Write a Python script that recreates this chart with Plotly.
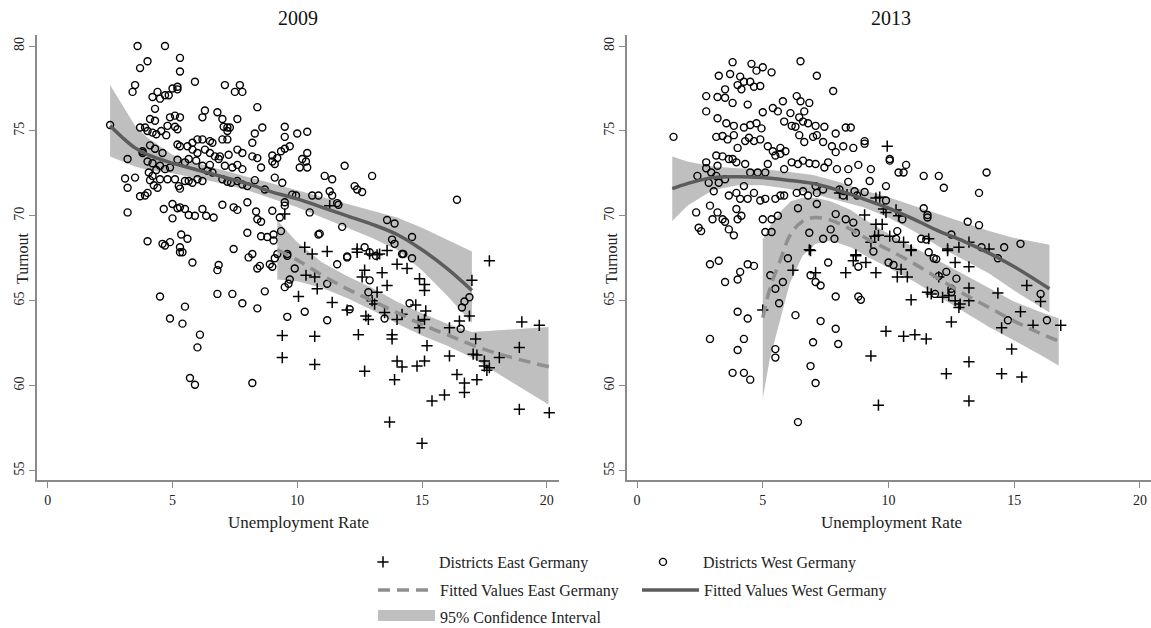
import plotly.graph_objects as go

# ---------------- data ----------------
west_2009 = [
    (3.6,80.0),(4.7,80.0),(5.3,79.3),(4.0,79.1),(3.7,78.7),(5.3,78.5),(5.9,77.9),(7.1,77.7),(7.7,77.7),(3.5,77.7),
    (3.4,77.3),(4.2,77.0),(4.4,77.3),(4.5,76.9),(4.7,77.1),(4.85,77.1),(5.0,77.5),(5.2,77.6),(5.2,77.45),(7.5,77.3),
    (7.8,77.3),(8.4,76.4),(4.3,76.3),(6.3,76.2),(6.8,76.1),(6.2,75.8),(4.9,75.8),(5.3,75.8),(5.1,75.9),(4.1,75.7),
    (4.3,75.6),(7.0,75.7),(7.6,75.7),(3.7,75.2),(3.9,75.2),(4.8,75.3),(5.1,75.25),(5.2,75.1),(7.05,75.25),(7.2,75.2),
    (7.2,75.0),(7.3,75.2),(8.6,75.2),(9.5,75.25),(10.4,74.95),(10.0,74.85),(9.5,74.65),(8.3,74.85),(7.0,74.5),(7.2,74.5),
    (4.0,75.0),(4.2,74.9),(4.35,74.8),(4.55,75.0),(4.75,74.75),(5.2,74.2),(5.3,74.1),(5.8,74.3),(6.0,74.5),(6.2,74.5),
    (6.5,74.4),(6.6,74.3),(8.2,74.3),(9.7,74.1),(9.5,73.95),(9.35,73.8),(10.4,73.7),(3.8,73.8),(3.8,73.7),(4.1,74.15),
    (4.3,73.95),(4.6,73.7),(5.6,74.1),(5.8,73.9),(6.0,73.7),(6.3,73.9),(6.5,73.7),(6.7,73.5),(6.9,73.5),(7.25,73.6),
    (7.6,73.9),(7.8,73.7),(8.2,73.5),(8.4,73.4),(8.55,72.85),(9.0,73.55),(9.2,73.4),(9.0,73.2),(9.1,73.05),(10.2,73.35),
    (10.35,73.2),(10.1,72.85),(10.4,72.85),(11.9,72.95),(3.2,73.35),(4.0,73.2),(4.2,73.1),(4.5,72.95),(4.7,72.75),(4.9,72.85),
    (3.1,72.2),(3.5,72.25),(3.2,71.65),(3.7,71.15),(3.9,71.2),(4.0,71.35),(2.5,75.35),
    (5.2,73.3),(5.5,73.15),(5.65,73.35),(5.95,73.25),(6.2,72.95),(6.5,73.0),(6.85,73.35),(7.1,72.95),(7.4,72.85),(7.6,73.0),
    (7.8,72.75),(4.05,72.55),(4.35,72.7),(4.2,72.35),(4.1,72.1),(4.5,72.15),(4.25,71.8),(4.4,71.65),(4.8,72.15),(5.1,72.15),
    (5.25,71.75),(5.3,71.6),(5.5,72.05),(5.65,72.05),(5.8,71.95),(6.0,72.15),(6.2,72.05),(6.4,72.65),(6.6,72.55),(7.0,72.15),
    (7.2,72.0),(7.35,71.95),(7.6,72.05),(7.8,71.85),(8.0,71.75),(8.3,72.1),(8.7,71.55),(9.1,72.25),(9.4,71.95),(9.8,71.25),
    (9.95,71.2),(9.5,70.8),(10.6,71.2),(10.85,71.2),(11.1,72.35),(11.4,72.15),(11.3,71.45),(11.4,71.2),(11.6,70.75),(11.65,70.65),
    (12.3,71.75),(12.4,71.55),(12.6,71.4),(13.0,72.35),
    (3.2,70.2),(4.65,70.4),(5.0,70.7),(5.2,70.45),(5.0,69.85),(5.3,70.5),(5.5,70.4),(5.65,70.05),(5.9,70.0),(6.2,70.4),
    (6.35,70.0),(6.65,69.9),(7.0,70.65),(7.45,70.5),(7.6,70.35),(8.0,70.8),(8.35,70.25),(8.4,69.8),(8.55,69.65),(9.0,70.3),
    (9.3,69.9),(9.5,70.6),(10.5,70.2),(10.85,68.9),(11.8,69.35),(13.6,69.75),(13.9,69.55),(16.4,70.95),
    (4.0,68.5),(4.6,68.35),(4.9,68.45),(4.7,68.25),(5.35,68.9),(5.6,68.65),(5.3,68.15),(5.3,67.85),(7.45,68.05),(8.0,69.0),
    (8.55,68.8),(8.8,68.75),(9.05,68.9),(9.05,68.55),(9.35,69.1),(9.6,67.75),(10.9,68.95),(12.0,67.6),(12.7,68.15),(12.9,67.85),
    (13.15,67.65),(13.8,68.6),(13.9,68.35),(14.6,68.75),(14.25,67.75),
    (5.4,67.85),(5.8,67.25),(6.8,66.8),(6.85,67.1),(4.5,65.25),(5.5,64.65),(6.8,65.4),(7.4,65.4),(7.8,64.85),(8.4,64.55),
    (8.7,65.55),(4.9,63.95),(5.4,63.65),(6.1,63.0),(6.0,62.25),(5.7,60.45),(5.9,60.05),(8.2,60.15),(8.05,67.55),(8.2,67.75),
    (8.4,66.9),(8.5,67.05),(8.9,67.15),(9.0,67.0),(9.1,67.5),(9.2,67.75),(9.6,67.65),(9.7,66.25),(9.65,66.0),(9.5,65.8),
    (9.9,66.9),(9.6,64.05),(10.3,64.35),(11.2,66.0),(11.2,63.85),(11.6,67.15),(12.0,67.55),(12.1,64.5),(12.9,66.2),(12.85,65.5),
    (14.5,64.85),(13.5,63.95),(14.6,67.5),(14.2,67.75),(16.7,64.95),(16.6,64.6),(16.9,65.2),(16.55,63.35),
]

east_2009 = [
    (9.4,62.95),(9.4,61.65),(10.05,65.25),(10.35,66.5),(10.7,66.4),(10.6,67.75),(11.2,67.9),(10.8,65.7),(10.7,62.9),(10.7,61.25),
    (11.4,64.9),(12.0,64.45),(12.45,63.0),(12.4,67.85),(12.9,67.75),(13.3,67.75),(13.6,67.95),(12.6,66.4),(12.7,66.8),(12.75,64.1),
    (12.85,63.9),(13.0,65.0),(13.1,64.8),(13.2,65.5),(13.4,66.65),(13.6,65.9),(13.5,64.3),(13.8,63.0),(13.8,62.75),(14.0,67.15),
    (14.4,66.9),(14.2,64.2),(14.0,63.9),(14.0,61.45),(14.2,61.1),(13.9,60.35),(12.7,60.85),(13.7,57.85),(15.0,56.6),(14.9,66.3),
    (15.1,65.95),(15.1,65.6),(14.75,64.75),(14.85,63.8),(14.9,63.4),(15.15,64.4),(15.1,63.9),(15.2,62.35),(15.1,61.45),(14.8,61.15),
    (15.4,59.1),(15.9,59.45),(16.1,63.4),(16.1,61.75),(16.4,60.65),(16.7,60.15),(16.7,59.6),(16.5,63.8),(16.9,64.1),(17.0,66.2),
    (17.7,67.35),(17.15,62.75),(17.05,61.85),(17.2,61.8),(17.5,61.45),(17.5,61.15),(17.7,61.05),(17.6,60.9),(17.2,60.35),(18.1,61.65),
    (19.0,63.75),(18.9,62.25),(18.9,58.6),(19.7,63.55),(20.1,58.4),(9.5,70.1),(11.3,70.6),(10.3,68.15),(12.4,68.05),(13.2,67.7),
]

west_2013 = [
    (1.45,74.65),(3.8,79.05),(6.5,79.1),(4.55,78.95),(5.0,78.75),(4.75,78.55),(5.35,78.45),(7.15,78.25),(3.25,78.25),(3.7,78.35),
    (4.1,78.2),(4.0,77.7),(4.25,77.9),(4.5,77.9),(4.65,77.6),(4.9,77.65),(3.5,77.45),(4.15,77.45),(7.8,77.35),(2.75,77.05),
    (3.2,77.0),(3.5,76.95),(3.8,76.65),(4.4,76.55),(6.35,77.05),(6.5,76.75),(6.85,76.65),(5.8,76.75),(5.4,76.35),(5.6,76.15),
    (5.0,76.1),(6.1,76.05),(6.65,76.15),(2.75,76.15),(3.2,75.75),(3.55,75.45),(3.85,75.3),(4.25,75.2),(4.5,75.35),(4.75,75.45),
    (4.95,75.15),(5.85,75.55),(6.15,75.3),(6.3,75.25),(6.6,75.55),(6.8,75.45),(6.45,75.8),(7.1,75.3),(7.45,75.25),(8.3,75.2),
    (8.5,75.2),(7.9,74.85),(3.15,74.65),(3.4,74.7),(3.6,74.5),(3.85,74.75),(4.0,74.0),(4.3,74.4),(4.45,74.6),(4.65,74.4),
    (4.9,74.5),(5.2,74.1),(5.4,73.8),(5.7,74.0),(5.9,73.8),(6.45,74.75),(6.65,74.35),(7.0,74.65),(7.15,74.75),(7.4,74.35),
    (7.75,74.1),(7.9,73.75),(8.2,74.1),(8.6,74.0),(9.05,74.4),(9.05,74.25),(10.05,73.35),(10.05,73.25),(3.4,73.5),(3.2,72.95),
    (2.75,73.15),(3.15,73.55),(3.65,73.35),(3.8,73.35),(3.95,73.15),(4.3,73.05),(4.5,72.55),(4.8,72.55),(5.1,72.55),(5.2,73.05),
    (5.5,73.55),(5.7,73.65),(5.85,72.75),(6.15,73.15),(6.4,73.05),(6.6,73.25),(6.85,73.1),(7.1,73.05),(7.45,72.85),(7.6,73.15),
    (7.95,72.75),(8.4,72.75),(8.8,73.0),(9.3,72.75),(10.4,72.55),(10.6,72.55),(10.7,73.0),(11.4,72.35),(12.0,72.35),(12.2,71.65),
    (13.9,72.55),(13.6,71.35),(2.4,72.35),(2.75,72.8),(2.95,72.55),(2.85,71.95),(3.05,71.45),(3.15,72.35),(3.25,71.95),(3.5,72.15),
    (3.65,71.2),(3.95,71.35),(4.1,71.0),(4.25,71.75),(4.4,71.0),(4.65,71.35),(4.9,70.9),(5.1,71.0),(5.5,71.0),(5.7,71.2),
    (5.85,71.2),(6.35,71.35),(6.6,71.45),(6.8,71.2),(7.1,71.75),(7.15,71.35),(7.4,71.55),(8.05,71.55),(8.2,71.2),(8.4,72.0),
    (8.65,71.45),(8.75,71.2),(9.05,71.4),(9.25,72.05),(9.9,71.75),(9.9,70.9),(2.35,70.2),(2.9,70.6),(3.0,69.8),(3.2,70.2),
    (2.45,69.3),(2.55,69.1),(3.4,69.8),(3.5,69.65),(3.65,69.2),(3.85,68.85),(3.95,70.4),(4.0,69.8),(4.15,70.0),(5.0,69.8),
    (5.35,69.8),(5.1,69.05),(5.35,69.05),(5.6,70.0),(6.4,70.45),(6.85,69.0),(7.15,70.7),(7.4,68.65),(7.7,69.2),(7.85,68.65),
    (7.9,70.1),(8.3,69.8),(8.6,69.6),(8.7,69.0),(10.3,68.65),(10.35,69.1),(10.55,69.8),(11.4,70.45),(11.55,70.05),(11.55,69.9),
    (12.5,68.9),(13.15,69.65),(13.6,69.45),(14.6,68.15),(15.25,68.35),(13.7,68.15),(11.3,68.65),(11.5,68.6),
    (2.9,67.15),(3.25,67.35),(4.4,67.15),(4.65,67.05),(4.1,66.7),(4.0,66.25),(3.5,66.1),(5.3,66.5),(5.8,66.1),(5.5,65.7),
    (5.65,64.85),(6.0,67.5),(6.3,64.15),(4.0,64.35),(4.4,63.95),(2.9,62.75),(4.25,62.75),(4.0,62.1),(5.5,62.15),(5.5,61.65),
    (3.8,60.75),(4.25,60.75),(4.5,60.35),(6.4,57.85),(6.9,66.5),(7.1,66.1),(7.3,65.9),(7.6,67.25),(7.9,65.25),(7.3,63.8),
    (7.9,63.35),(8.0,62.45),(7.0,62.55),(6.9,61.15),(7.1,60.15),(8.8,67.0),(8.8,65.25),(8.9,65.05),(9.4,67.9),(10.0,67.25),
    (10.2,67.1),(11.6,67.85),(11.8,67.5),(11.9,67.45),(12.0,66.45),(11.85,65.4),(12.3,66.7),(12.7,66.3),(12.5,65.7),(12.5,65.5),
    (14.35,67.5),(14.75,63.85),(16.05,65.4),(16.3,63.85),
]

east_2013 = [
    (9.95,74.1),(8.05,71.35),(8.35,71.25),(9.5,71.05),(9.65,71.1),(9.8,70.4),(9.9,70.2),(10.3,70.35),(10.4,70.0),(9.05,70.05),
    (9.5,69.5),(9.75,69.5),(9.45,68.8),(9.6,68.85),(10.05,68.8),(9.3,68.45),(10.6,68.45),(10.9,68.0),(11.6,68.65),(12.35,68.05),
    (12.8,68.15),(13.2,68.45),(14.0,68.05),(6.85,68.0),(8.7,67.7),(5.0,64.45),(6.2,66.8),(6.9,67.95),(7.1,66.65),(8.3,66.65),
    (8.7,67.65),(8.6,67.35),(9.1,67.25),(9.5,66.65),(9.9,63.2),(9.3,61.75),(9.6,58.85),(10.35,66.4),(10.5,66.85),(10.75,66.4),
    (10.9,67.95),(10.9,65.05),(10.6,62.9),(11.05,63.0),(11.5,62.75),(11.55,65.5),(11.7,65.4),(12.0,66.4),(12.15,65.2),(12.4,65.3),
    (12.35,67.95),(12.5,63.75),(12.3,60.7),(12.65,67.25),(12.65,65.0),(12.8,64.6),(12.85,64.8),(13.2,67.0),(13.2,65.75),(13.2,65.0),
    (13.2,61.4),(13.2,59.1),(14.35,65.45),(14.5,63.4),(14.5,60.7),(14.9,62.15),(15.25,64.35),(15.3,60.5),(15.5,65.9),(15.75,63.55),
    (16.05,64.95),(16.85,63.55),
]

# fitted values and 95% confidence bounds
fit_w09_x = [2.5, 3.0, 3.5, 4, 5, 6, 7, 8, 9, 10, 11, 12, 13, 14, 15, 16, 17]
fit_w09_y = [75.3, 74.6, 74.0, 73.6, 73.1, 72.7, 72.3, 71.9, 71.4, 71.0, 70.5, 70.0, 69.5, 68.9, 68.0, 66.9, 65.6]
ci_w09_hi = [77.7, 76.5, 75.3, 74.6, 73.6, 73.1, 72.7, 72.3, 71.9, 71.5, 71.1, 70.7, 70.3, 69.9, 69.3, 68.6, 67.9]
ci_w09_lo = [73.5, 73.2, 72.9, 72.7, 72.5, 72.2, 71.9, 71.5, 71.0, 70.5, 69.9, 69.3, 68.7, 68.0, 66.8, 65.3, 63.7]

fit_e09_x = [9.2, 10, 11, 12, 13, 14, 15, 16, 17, 18, 19, 20.1]
fit_e09_y = [68.0, 67.4, 66.5, 65.7, 65.0, 64.3, 63.6, 63.0, 62.4, 61.9, 61.5, 61.1]
ci_e09_hi = [69.8, 68.5, 67.3, 66.5, 65.8, 65.0, 64.3, 63.7, 63.2, 63.3, 63.4, 63.5]
ci_e09_lo = [66.2, 66.1, 65.7, 65.1, 64.4, 63.6, 62.9, 62.3, 61.6, 60.7, 59.8, 58.8]

fit_w13_x = [1.4, 2, 3, 4, 5, 6, 7, 8, 9, 10, 11, 12, 13, 14, 15, 16.4]
fit_w13_y = [71.6, 71.9, 72.25, 72.3, 72.25, 72.1, 71.9, 71.5, 71.0, 70.45, 69.8, 69.1, 68.5, 67.8, 67.0, 65.7]
ci_w13_hi = [73.5, 73.2, 72.9, 72.8, 72.75, 72.6, 72.4, 72.0, 71.5, 71.1, 70.6, 70.1, 69.6, 69.1, 68.7, 68.3]
ci_w13_lo = [69.7, 70.6, 71.5, 71.8, 71.8, 71.6, 71.3, 70.9, 70.5, 69.9, 69.1, 68.2, 67.4, 66.6, 65.6, 64.3]

fit_e13_x = [5.0, 5.3, 5.7, 6.1, 6.6, 7.1, 7.7, 8.5, 9.2, 10.0, 11.0, 12.0, 13.0, 14.0, 15.0, 16.0, 16.8]
fit_e13_y = [64.0, 65.8, 67.4, 68.9, 69.7, 69.9, 69.75, 69.2, 68.6, 68.0, 67.2, 66.3, 65.4, 64.6, 63.8, 63.1, 62.6]
ci_e13_hi = [68.7, 69.5, 70.3, 70.9, 71.1, 71.1, 70.9, 70.4, 69.7, 69.0, 68.2, 67.4, 66.6, 65.8, 65.0, 64.4, 64.0]
ci_e13_lo = [59.0, 61.5, 63.8, 66.0, 67.6, 68.3, 68.5, 68.1, 67.5, 66.9, 66.1, 65.2, 64.3, 63.4, 62.6, 61.8, 61.1]

years = ["2009", "2013"]
x_ticks = [0, 5, 10, 15, 20]
y_ticks = [55, 60, 65, 70, 75, 80]

# ---------------- styling ----------------
FONT = "Liberation Serif"
BAND = "#bfbfbf"
WEST_LINE = "#5c5c5c"
EAST_LINE = "#8f8f8f"
AXIS = "#8a8a8a"
NB = "\u00a0"

fig = go.Figure()

panels = [
    dict(xa="x", ya="y", west=west_2009, east=east_2009,
         fw=(fit_w09_x, fit_w09_y, ci_w09_hi, ci_w09_lo),
         fe=(fit_e09_x, fit_e09_y, ci_e09_hi, ci_e09_lo)),
    dict(xa="x2", ya="y2", west=west_2013, east=east_2013,
         fw=(fit_w13_x, fit_w13_y, ci_w13_hi, ci_w13_lo),
         fe=(fit_e13_x, fit_e13_y, ci_e13_hi, ci_e13_lo)),
]

for i, p in enumerate(panels):
    first = i == 0
    # confidence bands
    for key, outline in (("fw", 0), ("fe", 1.5)):
        fx, fy, hi, lo = p[key]
        fig.add_trace(go.Scatter(
            x=list(fx) + list(fx)[::-1], y=list(hi) + list(lo)[::-1],
            xaxis=p["xa"], yaxis=p["ya"], mode="lines", fill="toself",
            fillcolor=BAND, line=dict(color="white" if outline else BAND, width=outline),
            showlegend=False, hoverinfo="skip"))
    # scatter points
    fig.add_trace(go.Scatter(
        x=[a for a, b in p["east"]], y=[b for a, b in p["east"]],
        xaxis=p["xa"], yaxis=p["ya"], mode="markers",
        name=NB * 9 + "Districts East Germany",
        legend="legend", showlegend=first,
        marker=dict(symbol="cross-thin-open", size=8, line=dict(color="black", width=1.5), color="black")))
    fig.add_trace(go.Scatter(
        x=[a for a, b in p["west"]], y=[b for a, b in p["west"]],
        xaxis=p["xa"], yaxis=p["ya"], mode="markers",
        name=NB * 5 + "Districts West Germany",
        legend="legend", showlegend=first,
        marker=dict(symbol="circle-open", size=7, line=dict(color="black", width=1.4), color="black")))
    # fitted lines
    fx, fy, _, _ = p["fe"]
    fig.add_trace(go.Scatter(
        x=fx, y=fy, xaxis=p["xa"], yaxis=p["ya"], mode="lines", line_shape="spline",
        name="Fitted Values East Germany", legend="legend2", showlegend=first,
        line=dict(color=EAST_LINE, width=3.5, dash="12px,7px")))
    fx, fy, _, _ = p["fw"]
    fig.add_trace(go.Scatter(
        x=fx, y=fy, xaxis=p["xa"], yaxis=p["ya"], mode="lines", line_shape="spline",
        name="Fitted Values West Germany", legend="legend2", showlegend=first,
        line=dict(color=WEST_LINE, width=3.5)))

# legend key for the confidence band (no data, key only)
fig.add_trace(go.Scatter(
    x=[None], y=[None], mode="lines", fill="toself", fillcolor=BAND,
    line=dict(color=BAND, width=18), name="95% Confidence Interval",
    legend="legend3", showlegend=True, hoverinfo="skip"))

W, H = 1151, 628
PLOT_L, PLOT_T, PLOT_B = 37, 35, 480          # page pixels of the plotting area
L, T, R, B = PLOT_L, PLOT_T, 0, H - PLOT_B
PW, PH = W - L - R, H - T - B


def px_x(px):
    return (px - L) / PW


def px_y(py):
    return (H - B - py) / PH


axis_common = dict(showline=True, linecolor=AXIS, linewidth=1.5, ticks="outside", ticklen=6,
                   tickcolor=AXIS, tickwidth=1.2, showgrid=False, zeroline=False, automargin=False,
                   tickfont=dict(family=FONT, size=14, color="#222"), mirror=False)

fig.update_layout(
    template="none",
    width=W, height=H, margin=dict(l=L, r=R, t=T, b=B, autoexpand=False),
    plot_bgcolor="white", paper_bgcolor="white", hovermode=False,
    font=dict(family=FONT, color="#222"),
    xaxis=dict(domain=[0, px_x(559)], range=[-0.43, 20.49], tickvals=x_ticks, anchor="y", **axis_common),
    yaxis=dict(domain=[0, 1], range=[54.44, 80.65], tickvals=y_ticks, tickangle=-90, anchor="x", **axis_common),
    xaxis2=dict(domain=[px_x(627), 1], range=[-0.40, 20.44], tickvals=x_ticks, anchor="y2", **axis_common),
    yaxis2=dict(domain=[0, 1], range=[54.44, 80.65], tickvals=y_ticks, tickangle=-90, anchor="x2", **axis_common),
)

legend_common = dict(orientation="h", xanchor="left", yanchor="middle", bgcolor="rgba(0,0,0,0)",
                     borderwidth=0, font=dict(family=FONT, size=16, color="#222"),
                     entrywidthmode="pixels", traceorder="normal")
fig.update_layout(
    legend=dict(x=px_x(363), y=px_y(562), itemwidth=30, entrywidth=235, **legend_common),
    legend2=dict(x=px_x(373), y=px_y(590), itemwidth=57, entrywidth=192, **legend_common),
    legend3=dict(x=px_x(373), y=px_y(617), itemwidth=57, entrywidth=192, **legend_common),
)

annots = []
for yr, cx, tx in ((years[0], 298, 22), (years[1], 891, 611)):
    annots.append(dict(text=yr, x=px_x(cx), y=px_y(18), xref="paper", yref="paper",
                       showarrow=False, font=dict(family=FONT, size=20, color="#111"),
                       xanchor="center", yanchor="middle"))
    annots.append(dict(text="Unemployment Rate", x=px_x(cx), y=px_y(522), xref="paper", yref="paper",
                       showarrow=False, font=dict(family=FONT, size=17, color="#222"),
                       xanchor="center", yanchor="middle"))
    annots.append(dict(text="Turnout", x=px_x(tx), y=px_y(258), xref="paper", yref="paper",
                       showarrow=False, textangle=-90, font=dict(family=FONT, size=16, color="#222"),
                       xanchor="center", yanchor="middle"))
fig.update_layout(annotations=annots)

# remove the browser's default 8px page margin so the figure fills the window exactly
fig.write_html("out.html",
               config={"displayModeBar": False},
               post_script="document.body.style.margin='0';"
                           "document.documentElement.style.overflow='hidden';")
